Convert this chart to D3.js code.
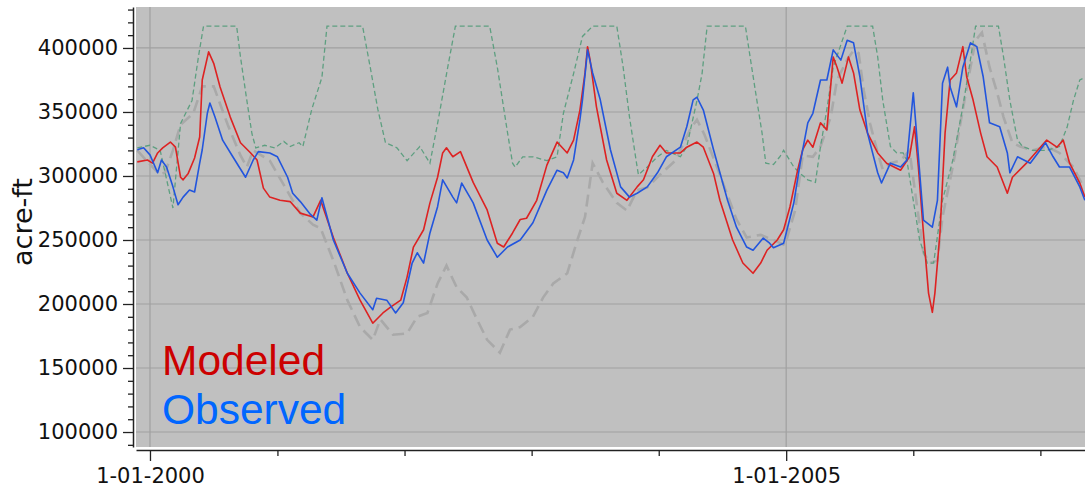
<!DOCTYPE html>
<html><head><meta charset="utf-8">
<script src="https://cdn.jsdelivr.net/npm/d3@7"></script>
<style>html,body{margin:0;padding:0;background:#fff;}svg{display:block;}</style>
</head><body>
<svg id="chart" width="1085" height="491"></svg>
<script>
// ---- DATA (decimal years, acre-ft) ----
const targetYears = [1999.90,2000.00,2000.08,2000.18,2000.24,2000.33,2000.38,2000.42,2000.68,2000.71,2000.76,2000.80,2000.83,2000.90,2000.98,2001.05,2001.10,2001.17,2001.20,2001.27,2001.35,2001.39,2001.67,2001.73,2001.79,2001.85,2001.94,2002.02,2002.12,2002.20,2002.26,2002.34,2002.40,2002.67,2002.73,2002.81,2002.85,2002.87,2002.93,2003.01,2003.12,2003.20,2003.25,2003.33,2003.40,2003.48,2003.67,2003.72,2003.77,2003.83,2003.84,2003.91,2003.99,2004.06,2004.17,2004.22,2004.30,2004.34,2004.38,2004.68,2004.72,2004.77,2004.81,2004.84,2004.90,2004.95,2004.98,2005.06,2005.11,2005.17,2005.23,2005.27,2005.32,2005.37,2005.48,2005.68,2005.72,2005.76,2005.82,2005.87,2005.92,2005.95,2006.00,2006.05,2006.11,2006.16,2006.23,2006.31,2006.39,2006.45,2006.49,2006.67,2006.71,2006.76,2006.82,2006.86,2006.94,2007.05,2007.15,2007.21,2007.26,2007.31,2007.35];
const targetValues = [322000,324000,320000,275000,341000,359000,393000,417000,417000,393000,359000,333000,322000,324000,322000,327000,323000,326000,323000,352000,377000,417000,417000,385000,352000,326000,322000,312000,323000,310000,341000,385000,417000,417000,385000,334000,310000,307000,315000,315000,312000,315000,349000,380000,409000,417000,417000,385000,346000,307000,301000,307000,315000,320000,315000,323000,359000,380000,417000,417000,391000,359000,334000,310000,309000,315000,320000,307000,302000,297000,295000,323000,352000,385000,417000,417000,393000,359000,323000,318000,318000,312000,281000,250000,232000,232000,281000,312000,354000,391000,417000,417000,393000,359000,328000,323000,320000,320000,323000,338000,359000,375000,377000];

const baseYears = [1999.90,2000.00,2000.08,2000.12,2000.18,2000.24,2000.34,2000.41,2000.50,2000.61,2000.71,2000.76,2000.81,2000.94,2001.05,2001.12,2001.18,2001.28,2001.34,2001.44,2001.55,2001.65,2001.75,2001.81,2001.91,2002.02,2002.10,2002.18,2002.26,2002.33,2002.41,2002.49,2002.57,2002.65,2002.75,2002.83,2002.91,2003.01,2003.09,2003.17,2003.28,2003.36,2003.42,2003.48,2003.56,2003.67,2003.75,2003.83,2003.91,2004.01,2004.13,2004.25,2004.30,2004.36,2004.48,2004.61,2004.69,2004.80,2004.90,2004.99,2005.07,2005.13,2005.21,2005.27,2005.35,2005.40,2005.48,2005.53,2005.57,2005.61,2005.66,2005.72,2005.76,2005.82,2005.90,2005.97,2006.03,2006.08,2006.13,2006.19,2006.23,2006.31,2006.39,2006.45,2006.49,2006.54,2006.60,2006.66,2006.71,2006.78,2006.84,2006.94,2007.05,2007.15,2007.26,2007.34];
const baseValues = [320000,309000,301000,303000,320000,340000,349000,370000,370000,340000,316000,307000,320000,312000,293000,281000,271000,262000,259000,234000,203000,182000,172000,188000,176000,177000,190000,193000,216000,230000,213000,205000,188000,172000,162000,180000,182000,190000,205000,216000,224000,250000,268000,310000,295000,279000,273000,289000,291000,301000,312000,337000,344000,332000,301000,266000,252000,254000,250000,246000,273000,316000,315000,323000,346000,375000,391000,398000,396000,367000,341000,318000,305000,310000,312000,320000,276000,240000,232000,234000,268000,307000,352000,385000,406000,412000,385000,365000,346000,326000,323000,320000,323000,318000,307000,291000];

const modeledYears = [1999.90,1999.98,2000.02,2000.06,2000.10,2000.16,2000.20,2000.24,2000.26,2000.30,2000.35,2000.39,2000.41,2000.46,2000.50,2000.55,2000.63,2000.71,2000.79,2000.84,2000.89,2000.94,2001.02,2001.10,2001.18,2001.28,2001.34,2001.44,2001.55,2001.65,2001.75,2001.83,2001.89,2001.97,2002.02,2002.07,2002.15,2002.20,2002.26,2002.30,2002.33,2002.38,2002.44,2002.54,2002.65,2002.73,2002.78,2002.85,2002.91,2002.96,2003.04,2003.12,2003.20,2003.28,2003.33,2003.38,2003.42,2003.44,2003.46,2003.51,2003.59,2003.67,2003.75,2003.83,2003.88,2003.95,2004.01,2004.06,2004.17,2004.22,2004.30,2004.35,2004.43,2004.48,2004.58,2004.66,2004.74,2004.80,2004.85,2004.93,2004.98,2005.03,2005.09,2005.13,2005.17,2005.21,2005.27,2005.32,2005.37,2005.40,2005.44,2005.49,2005.53,2005.58,2005.64,2005.72,2005.79,2005.90,2005.97,2006.01,2006.04,2006.08,2006.12,2006.15,2006.17,2006.21,2006.25,2006.29,2006.34,2006.39,2006.42,2006.47,2006.53,2006.58,2006.66,2006.74,2006.78,2006.89,2007.00,2007.05,2007.13,2007.18,2007.23,2007.31,2007.35];
const modeledValues = [311000,312500,310000,318000,322000,326500,322500,299000,297000,302000,314000,330500,375000,397000,388000,369500,346000,326000,318000,312500,290500,283500,281000,280000,271000,268000,281000,252000,224000,203000,185000,193000,197500,203000,221000,244500,258000,279000,299000,318000,322000,315000,319000,295000,273500,247500,244500,255500,266000,267000,281000,308500,326500,318000,328000,351500,380500,401000,390500,354000,312500,286500,281000,291500,297000,315000,324000,318000,318000,322500,326500,322500,302000,281000,250000,232000,224000,232000,242000,250000,258000,276000,304500,320500,328000,322500,341500,336000,393000,385000,372500,393000,380500,351500,333500,318000,310000,304500,315000,338500,307000,255500,208500,193500,208500,255500,333500,375000,380500,401000,377500,359500,333500,315000,307000,286500,299000,310000,322500,328000,322500,328000,310000,294500,283500];

const observedYears = [1999.90,1999.95,2000.00,2000.06,2000.09,2000.13,2000.18,2000.22,2000.26,2000.31,2000.35,2000.39,2000.41,2000.45,2000.47,2000.51,2000.57,2000.65,2000.75,2000.81,2000.85,2000.94,2001.00,2001.08,2001.12,2001.18,2001.26,2001.31,2001.35,2001.44,2001.55,2001.65,2001.75,2001.78,2001.86,2001.93,2001.99,2002.06,2002.10,2002.15,2002.20,2002.26,2002.30,2002.38,2002.41,2002.45,2002.54,2002.65,2002.73,2002.81,2002.91,2003.01,2003.12,2003.20,2003.25,2003.28,2003.33,2003.38,2003.40,2003.44,2003.48,2003.54,2003.62,2003.70,2003.77,2003.83,2003.91,2003.99,2004.06,2004.17,2004.22,2004.27,2004.30,2004.35,2004.43,2004.48,2004.54,2004.61,2004.69,2004.74,2004.82,2004.87,2004.90,2004.98,2005.06,2005.11,2005.17,2005.21,2005.27,2005.32,2005.37,2005.43,2005.48,2005.53,2005.58,2005.64,2005.72,2005.75,2005.82,2005.90,2005.95,2006.00,2006.03,2006.08,2006.15,2006.19,2006.23,2006.27,2006.29,2006.34,2006.39,2006.45,2006.50,2006.55,2006.60,2006.68,2006.74,2006.76,2006.82,2006.92,2007.00,2007.04,2007.10,2007.15,2007.23,2007.31,2007.35];
const observedValues = [320500,322000,316500,302500,312500,307000,291500,277500,283500,289000,287500,310000,320500,349000,357000,346000,328000,315000,299000,312500,319000,318000,315000,299000,286500,280000,270000,265500,283000,250000,224000,208500,195500,204500,203000,193000,201000,232000,240000,232000,255500,276000,297000,283500,279000,294500,279000,250000,236500,244500,250000,263500,289000,304500,302500,298500,312500,344000,359500,398500,380500,359500,320500,291500,283500,286500,291500,302500,315000,322500,338500,359500,361500,351500,320500,302500,281000,260000,244500,242000,251500,247500,244000,247500,279000,310000,341500,349000,375000,375000,398500,390500,406000,404000,377500,333500,302500,294500,310000,307000,312500,365000,328000,265500,260000,281000,372500,385000,369500,354000,385000,404000,401000,377500,341500,338500,318000,302500,315000,310000,320500,326000,315000,307000,307000,291500,281000];

const yTickValues = [90000,100000,110000,120000,130000,140000,150000,160000,170000,180000,190000,200000,210000,220000,230000,240000,250000,260000,270000,280000,290000,300000,310000,320000,330000,340000,350000,360000,370000,380000,390000,400000,410000,420000,430000];
const gridValues = [100000,150000,200000,250000,300000,350000,400000];
const legendLabels = ["Modeled","Observed"];

// ---- helpers ----
function toDate(d){
  const yr = Math.floor(d);
  const s = new Date(yr,0,1), e = new Date(yr+1,0,1);
  return new Date(+s + (d - yr) * (e - s));
}

const svg = d3.select("#chart");
const pLeft = 136, pRight = 1085, pTop = 7, pBottom = 447;

const x = d3.scaleTime()
  .domain([toDate(1999.89), toDate(2007.351)])
  .range([pLeft, pRight]);
const y = d3.scaleLinear().domain([88300, 432000]).range([pBottom, pTop]);

// background
svg.append("rect").attr("x", pLeft).attr("y", pTop)
  .attr("width", pRight - pLeft).attr("height", pBottom - pTop)
  .attr("fill", "#c0c0c0");

// gridlines
svg.append("g").selectAll("line").data(gridValues).join("line")
  .attr("x1", pLeft).attr("x2", pRight)
  .attr("y1", d => y(d)).attr("y2", d => y(d))
  .attr("stroke", "#a0a0a0").attr("stroke-width", 1.2);
svg.append("g").selectAll("line").data([new Date(2000,0,1), new Date(2005,0,1)]).join("line")
  .attr("x1", d => x(d)).attr("x2", d => x(d))
  .attr("y1", pTop).attr("y2", pBottom)
  .attr("stroke", "#a0a0a0").attr("stroke-width", 1.2);

svg.append("clipPath").attr("id","clip").append("rect")
  .attr("x", pLeft).attr("y", pTop).attr("width", pRight-pLeft).attr("height", pBottom-pTop);
const plot = svg.append("g").attr("clip-path","url(#clip)");

function mkLine(years, vals){
  return d3.line().x((d,i) => x(toDate(years[i]))).y(d => y(d))(vals);
}

plot.append("path").attr("d", mkLine(baseYears, baseValues))
  .attr("fill","none").attr("stroke","#a9a9a9").attr("stroke-width",2.6)
  .attr("stroke-dasharray","12,6");
plot.append("path").attr("d", mkLine(targetYears, targetValues))
  .attr("fill","none").attr("stroke","#5e9f80").attr("stroke-width",1.3)
  .attr("stroke-dasharray","5,3");
plot.append("path").attr("d", mkLine(modeledYears, modeledValues))
  .attr("fill","none").attr("stroke","#dd2222").attr("stroke-width",1.6)
  .attr("stroke-linejoin","round");
plot.append("path").attr("d", mkLine(observedYears, observedValues))
  .attr("fill","none").attr("stroke","#2255dd").attr("stroke-width",1.6)
  .attr("stroke-linejoin","round");

// y axis
const yAxis = d3.axisLeft(y).tickValues(yTickValues).tickSize(5).tickSizeOuter(0).tickPadding(10)
  .tickFormat(v => v % 50000 === 0 ? String(v) : "");
const gy = svg.append("g").attr("transform","translate(133,0)").call(yAxis);
gy.selectAll(".tick line").filter(d => d % 50000 === 0).attr("x2", -10);
gy.selectAll("text").attr("font-family","DejaVu Sans").attr("font-size",21).attr("fill","#111");
gy.select(".domain").attr("stroke","#222").attr("stroke-width",1.5);
gy.selectAll(".tick line").attr("stroke","#222").attr("stroke-width",1.3);

// x axis
const xAxis = d3.axisBottom(x).ticks(d3.timeYear.every(1)).tickSize(6).tickSizeOuter(0).tickPadding(12)
  .tickFormat(d => d.getFullYear() % 5 === 0 ? d3.timeFormat("%-m-%d-%Y")(d) : "");
const gx = svg.append("g").attr("transform","translate(0,450)").call(xAxis);
gx.selectAll(".tick line").filter(d => d.getFullYear() % 5 === 0).attr("y2", 11);
gx.selectAll("text").attr("font-family","DejaVu Sans").attr("font-size",21).attr("fill","#111");
gx.select(".domain").attr("stroke","#222").attr("stroke-width",1.5);
gx.selectAll(".tick line").attr("stroke","#222").attr("stroke-width",1.3);

// y label
svg.append("text").attr("transform","translate(32,222) rotate(-90)")
  .attr("text-anchor","middle").attr("font-family","DejaVu Sans").attr("font-size",27)
  .attr("fill","#111").text("acre-ft");

// legend
svg.append("text").attr("x",162).attr("y",375).attr("font-family","Liberation Sans, Arial")
  .attr("font-size",42.5).attr("fill","#cc0000").text(legendLabels[0]);
svg.append("text").attr("x",162).attr("y",424).attr("font-family","Liberation Sans, Arial")
  .attr("font-size",42.5).attr("fill","#0066ff").text(legendLabels[1]);
</script>
</body></html>
